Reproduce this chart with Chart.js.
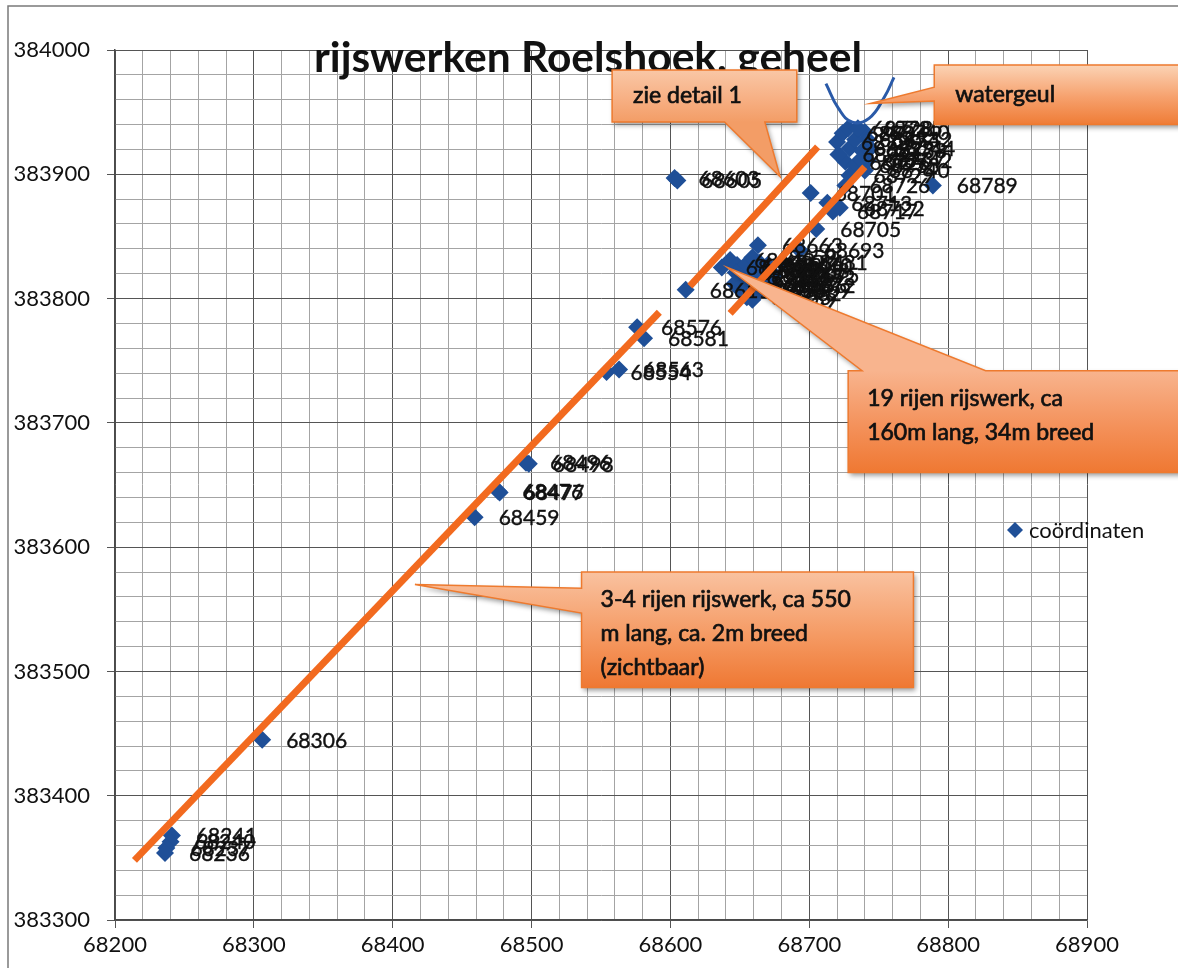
<!DOCTYPE html>
<html>
<head>
<meta charset="utf-8">
<script src="https://cdn.jsdelivr.net/npm/chart.js@4.4.1/dist/chart.umd.min.js"></script>
<style>
  html, body { margin: 0; padding: 0; background: #fff; }
  #wrap { width: 1178px; height: 968px; }
</style>
</head>
<body>
<div id="wrap"><canvas id="chart" width="1178" height="968"></canvas></div>
<script>
/* rijswerken Roelshoek – scatter van de ingemeten coördinaten.
   Elk punt krijgt als label zijn (afgeronde) x-waarde, zoals in het origineel. */

const TITLE = 'rijswerken Roelshoek, geheel';
const SERIES_NAME = 'coördinaten';

// x (oost) en y (noord) van de punten
const coordX = [
  68241, 68240, 68237, 68236,
  68306,
  68459, 68476, 68477, 68496, 68498,
  68554, 68563, 68576, 68581,
  68603, 68605, 68611,
  68637, 68643, 68648, 68652, 68657, 68655, 68662, 68668, 68672, 68661, 68650, 68664, 68659, 68646, 68666,
  68654, 68659, 68663, 68669, 68656, 68647, 68670, 68675, 68672,
  68663, 68681, 68693,
  68701, 68713, 68717, 68722, 68705, 68726,
  68720, 68724, 68728, 68740, 68729, 68726, 68733, 68740, 68729, 68742, 68738, 68742,
  68733, 68737, 68721, 68735, 68744,
  68789
];
const coordY = [
  383368, 383363, 383358, 383354,
  383445,
  383624, 383645, 383644, 383668, 383667,
  383741, 383743, 383777, 383768,
  383897, 383895, 383807,
  383825, 383831, 383827, 383817, 383811, 383801, 383804, 383823, 383817, 383823, 383807, 383829, 383799, 383812, 383811,
  383827, 383833, 383819, 383807, 383815, 383821, 383827, 383819, 383811,
  383843, 383829, 383839,
  383885, 383877, 383870, 383873, 383856, 383891,
  383926, 383933, 383937, 383934, 383921, 383910, 383907, 383903, 383899, 383928, 383919, 383911,
  383928, 383912, 383916, 383937, 383921,
  383891
];

// as-indeling en hoofdtickwaarden
const xTicks = [68200, 68300, 68400, 68500, 68600, 68700, 68800, 68900];
const yTicks = [383300, 383400, 383500, 383600, 383700, 383800, 383900, 384000];
const MINOR_STEP = 20;

// ingetekende oranje lijnen (begin- en eindpunt in coördinaten)
const rowLinesX = [[68214, 68592], [68614, 68706], [68643, 68740]];
const rowLinesY = [[383348, 383789], [383810, 383922], [383788, 383906]];

// blauwe lijn van de watergeul
const channelX = [68712, 68721, 68731, 68743, 68754, 68761];
const channelY = [383973, 383953, 383942, 383945, 383962, 383978];

// tekstballonnen (kader + punt van de aanwijzer in coördinaten)
const callouts = [
  { lines: ['zie detail 1'], box: [68558, 383984, 68691, 383942], side: 'bottom', base: [68639, 68668], tip: [68679, 383898],
    colors: ['#f9c7a6', '#f7b084', '#f39d66'] },
  { lines: ['watergeul'], box: [68790, 383988, 68975, 383940], side: 'left', base: [383970, 383959], tip: [68744, 383957],
    colors: ['#fbd3b5', '#f6a06c', '#ef7c36'] },
  { lines: ['19 rijen rijswerk, ca', '160m lang, 34m breed'], box: [68728, 383742, 68975, 383660], side: 'top', base: [68738, 68827], tip: [68641, 383825],
    colors: ['#f8b48e', '#f4915a', '#ef7832'] },
  { lines: ['3-4 rijen rijswerk, ca 550', 'm lang, ca. 2m breed', '(zichtbaar)'], box: [68536, 383580, 68775, 383487], side: 'left', base: [383567, 383547], tip: [68416, 383570],
    colors: ['#f9c2a0', '#f59a63', '#ef7833'] }
];

const POINT_COLOR = '#1f4f97';
const LINE_COLOR = '#f26a1f';
const FONT = 'Lato, "Open Sans", sans-serif';

const pointLabels = {
  id: 'pointLabels',
  afterDatasetDraw(chart, args) {
    if (args.index !== 0) return;
    const ctx = chart.ctx;
    ctx.save();
    ctx.font = `21px ${FONT}`;
    ctx.fillStyle = '#111';
    ctx.strokeStyle = '#111';
    ctx.lineWidth = 0.4;
    ctx.textBaseline = 'middle';
    ctx.textAlign = 'left';
    args.meta.data.forEach((el, i) => {
      const t = String(Math.round(coordX[i]));
      ctx.fillText(t, el.x + 24, el.y + 1);
      ctx.strokeText(t, el.x + 24, el.y + 1);
    });
    ctx.restore();
  }
};

function calloutPath(ctx, x1, y1, x2, y2, side, b1, b2, tx, ty) {
  ctx.beginPath();
  ctx.moveTo(x1, y1);
  if (side === 'top') { ctx.lineTo(b1, y1); ctx.lineTo(tx, ty); ctx.lineTo(b2, y1); }
  ctx.lineTo(x2, y1);
  ctx.lineTo(x2, y2);
  if (side === 'bottom') { ctx.lineTo(b2, y2); ctx.lineTo(tx, ty); ctx.lineTo(b1, y2); }
  ctx.lineTo(x1, y2);
  if (side === 'left') { ctx.lineTo(x1, b2); ctx.lineTo(tx, ty); ctx.lineTo(x1, b1); }
  ctx.closePath();
}

const overlay = {
  id: 'overlay',
  afterDraw(chart) {
    const { ctx, scales: { x, y } } = chart;
    ctx.save();

    // kader van de grafiek
    ctx.strokeStyle = '#7a7a7a';
    ctx.lineWidth = 1.5;
    ctx.beginPath();
    ctx.moveTo(8, chart.height);
    ctx.lineTo(8, 6);
    ctx.lineTo(chart.width, 6);
    ctx.stroke();

    // titel, over het plotgebied heen
    ctx.font = `bold 36px ${FONT}`;
    const w = ctx.measureText(TITLE).width;
    ctx.font = `bold ${(36 * 548 / w).toFixed(1)}px ${FONT}`;
    ctx.fillStyle = '#111';
    ctx.textAlign = 'center';
    ctx.textBaseline = 'middle';
    ctx.fillText(TITLE, 588, 58);

    // legenda
    const lx = 1015, ly = 530;
    ctx.fillStyle = POINT_COLOR;
    ctx.beginPath();
    ctx.moveTo(lx - 8, ly); ctx.lineTo(lx, ly - 8); ctx.lineTo(lx + 8, ly); ctx.lineTo(lx, ly + 8);
    ctx.closePath();
    ctx.fill();
    ctx.fillStyle = '#111';
    ctx.textAlign = 'left';
    ctx.font = `22px ${FONT}`;
    ctx.fillText(SERIES_NAME, lx + 14, ly + 1);

    // tekstballonnen
    callouts.forEach(c => {
      const x1 = x.getPixelForValue(c.box[0]);
      const y1 = y.getPixelForValue(c.box[1]);
      const x2 = x.getPixelForValue(c.box[2]);
      const y2 = y.getPixelForValue(c.box[3]);
      const tx = x.getPixelForValue(c.tip[0]);
      const ty = y.getPixelForValue(c.tip[1]);
      let b1, b2;
      if (c.side === 'left') {
        b1 = y.getPixelForValue(c.base[0]);
        b2 = y.getPixelForValue(c.base[1]);
      } else {
        b1 = x.getPixelForValue(c.base[0]);
        b2 = x.getPixelForValue(c.base[1]);
      }
      const grad = ctx.createLinearGradient(0, y1, 0, y2);
      grad.addColorStop(0, c.colors[0]);
      grad.addColorStop(0.55, c.colors[1]);
      grad.addColorStop(1, c.colors[2]);

      ctx.save();
      ctx.shadowColor = 'rgba(0,0,0,0.4)';
      ctx.shadowBlur = 5;
      ctx.shadowOffsetX = 2;
      ctx.shadowOffsetY = 3;
      calloutPath(ctx, x1, y1, x2, y2, c.side, b1, b2, tx, ty);
      ctx.fillStyle = grad;
      ctx.fill();
      ctx.restore();

      calloutPath(ctx, x1, y1, x2, y2, c.side, b1, b2, tx, ty);
      ctx.strokeStyle = '#ee7a2e';
      ctx.lineWidth = 1.5;
      ctx.stroke();

      ctx.fillStyle = '#111';
      ctx.strokeStyle = '#111';
      ctx.lineWidth = 0.7;
      ctx.font = `23px ${FONT}`;
      ctx.textAlign = 'left';
      ctx.textBaseline = 'middle';
      const put = (t, px, py) => { ctx.fillText(t, px, py); ctx.strokeText(t, px, py); };
      if (c.lines.length === 1) {
        put(c.lines[0], x1 + 21, (y1 + y2) / 2);
      } else {
        c.lines.forEach((t, i) => put(t, x1 + 19, y1 + 28 + i * 34));
      }
    });

    ctx.restore();
  }
};

const gridColor = ctx => (ctx.tick && ctx.tick.value % 100 === 0 ? '#555555' : '#a4a4a4');
const tickColor = ctx => (ctx.tick && ctx.tick.value % 100 === 0 ? '#555555' : 'rgba(0,0,0,0)');

const datasets = [
  {
    label: SERIES_NAME,
    data: coordX.map((v, i) => ({ x: v, y: coordY[i] })),
    pointStyle: 'rectRot',
    pointRadius: 9,
    backgroundColor: POINT_COLOR,
    borderWidth: 0,
    order: 2
  },
  ...rowLinesX.map((xs, i) => ({
    type: 'line',
    label: 'rij ' + (i + 1),
    data: xs.map((v, j) => ({ x: v, y: rowLinesY[i][j] })),
    borderColor: LINE_COLOR,
    borderWidth: 7,
    pointRadius: 0,
    fill: false,
    order: 1
  })),
  {
    type: 'line',
    label: 'watergeul',
    data: channelX.map((v, i) => ({ x: v, y: channelY[i] })),
    borderColor: '#2a5aa8',
    borderWidth: 3,
    pointRadius: 0,
    tension: 0.45,
    fill: false,
    order: 0
  }
];

new Chart(document.getElementById('chart'), {
  type: 'scatter',
  data: { datasets },
  options: {
    responsive: false,
    animation: false,
    layout: { padding: { top: 50, right: 91, left: 0, bottom: 0 } },
    plugins: { legend: { display: false }, tooltip: { enabled: false }, title: { display: false } },
    scales: {
      x: {
        type: 'linear',
        min: xTicks[0],
        max: xTicks[xTicks.length - 1],
        afterFit: s => { s.height = 48; },
        ticks: {
          stepSize: MINOR_STEP,
          autoSkip: false,
          maxRotation: 0,
          padding: 4,
          color: '#111',
          font: { family: FONT, size: 22 },
          callback: v => (xTicks.includes(v) ? String(v) : '')
        },
        grid: { color: gridColor, tickColor, tickLength: 8, lineWidth: 1 },
        border: { color: '#4a4a4a', width: 1.5 }
      },
      y: {
        type: 'linear',
        min: yTicks[0],
        max: yTicks[yTicks.length - 1],
        afterFit: s => { s.width = 115; },
        ticks: {
          stepSize: MINOR_STEP,
          autoSkip: false,
          padding: 17,
          color: '#111',
          font: { family: FONT, size: 22 },
          callback: v => (yTicks.includes(v) ? String(v) : '')
        },
        grid: { color: gridColor, tickColor, tickLength: 8, lineWidth: 1 },
        border: { color: '#4a4a4a', width: 1.5 }
      }
    }
  },
  plugins: [pointLabels, overlay]
});
</script>
</body>
</html>
